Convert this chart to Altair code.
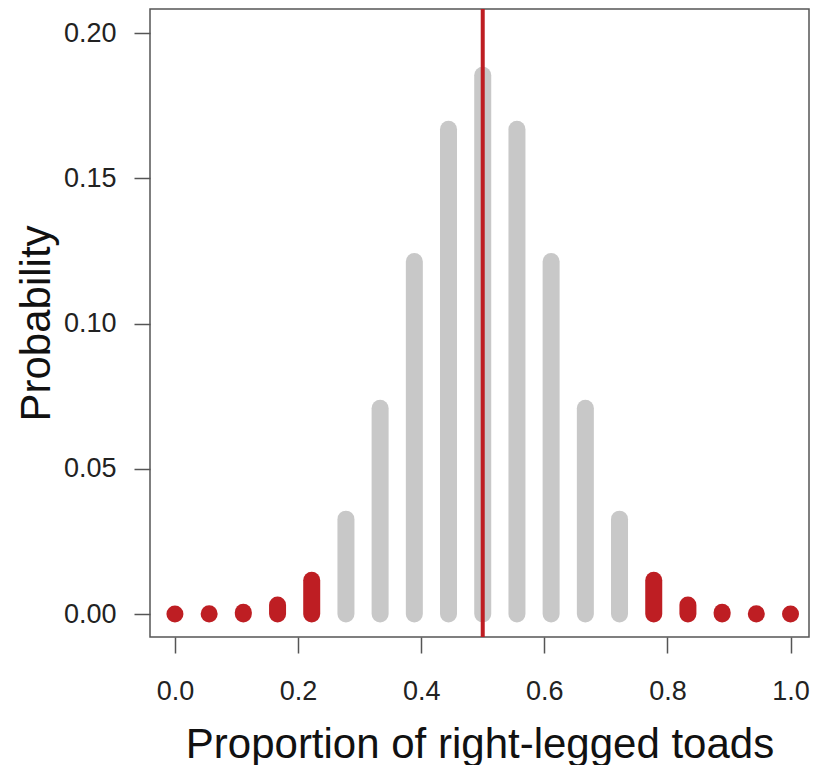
import altair as alt
import pandas as pd

proportion = [0.0, 0.0556, 0.1111, 0.1667, 0.2222, 0.2778, 0.3333, 0.3889, 0.4444, 0.5,
              0.5556, 0.6111, 0.6667, 0.7222, 0.7778, 0.8333, 0.8889, 0.9444, 1.0]
probability = [0.0000038, 0.0000687, 0.000584, 0.00311, 0.01167, 0.03268, 0.07082, 0.1214,
               0.16692, 0.18547, 0.16692, 0.1214, 0.07082, 0.03268, 0.01167, 0.00311,
               0.000584, 0.0000687, 0.0000038]
group = ["tail"] * 5 + ["mid"] * 9 + ["tail"] * 5
null_value = [0.5]

df = pd.DataFrame({"p": proportion, "prob": probability, "g": group,
                   "zero": [0.0] * len(proportion)})
dline = pd.DataFrame({"x": null_value})

FONT = "Liberation Sans"
xscale = alt.Scale(domain=[-0.0405, 1.03], nice=False, zero=False)
yscale = alt.Scale(domain=[-0.0079, 0.2083], nice=False, zero=False)

bars = alt.Chart(df).mark_rule(strokeWidth=17, strokeCap="round").encode(
    x=alt.X("p:Q", scale=xscale,
            axis=alt.Axis(values=[0, 0.2, 0.4, 0.6, 0.8, 1.0], format=".1f",
                          title="Proportion of right-legged toads")),
    y=alt.Y("zero:Q", scale=yscale,
            axis=alt.Axis(values=[0, 0.05, 0.1, 0.15, 0.2], format=".2f",
                          title="Probability")),
    y2="prob:Q",
    color=alt.Color("g:N", scale=alt.Scale(domain=["tail", "mid"],
                                            range=["#BE1E23", "#C8C8C8"]), legend=None),
)

vline = alt.Chart(dline).mark_rule(color="#BE1E23", strokeWidth=4).encode(
    x=alt.X("x:Q", scale=xscale)
)

chart = alt.layer(bars, vline).properties(
    width=659, height=628,
    autosize=alt.AutoSizeParams(type="none"),
    padding={"left": 142, "top": 1, "right": 3, "bottom": 128},
).configure_view(
    stroke="#555555", strokeWidth=1.5
).configure_axis(
    grid=False, domain=False, tickColor="#555555", tickWidth=1.5, tickSize=16,
    labelFont=FONT, labelFontSize=27, labelColor="#222222",
    titleFont=FONT, titleFontSize=42, titleFontWeight="normal", titleColor="#111111",
).configure_axisX(
    labelPadding=25, titlePadding=20,
).configure_axisY(
    labelPadding=18, titlePadding=5,
)

chart.save("out.html", embed_options={"renderer": "svg", "actions": False})
